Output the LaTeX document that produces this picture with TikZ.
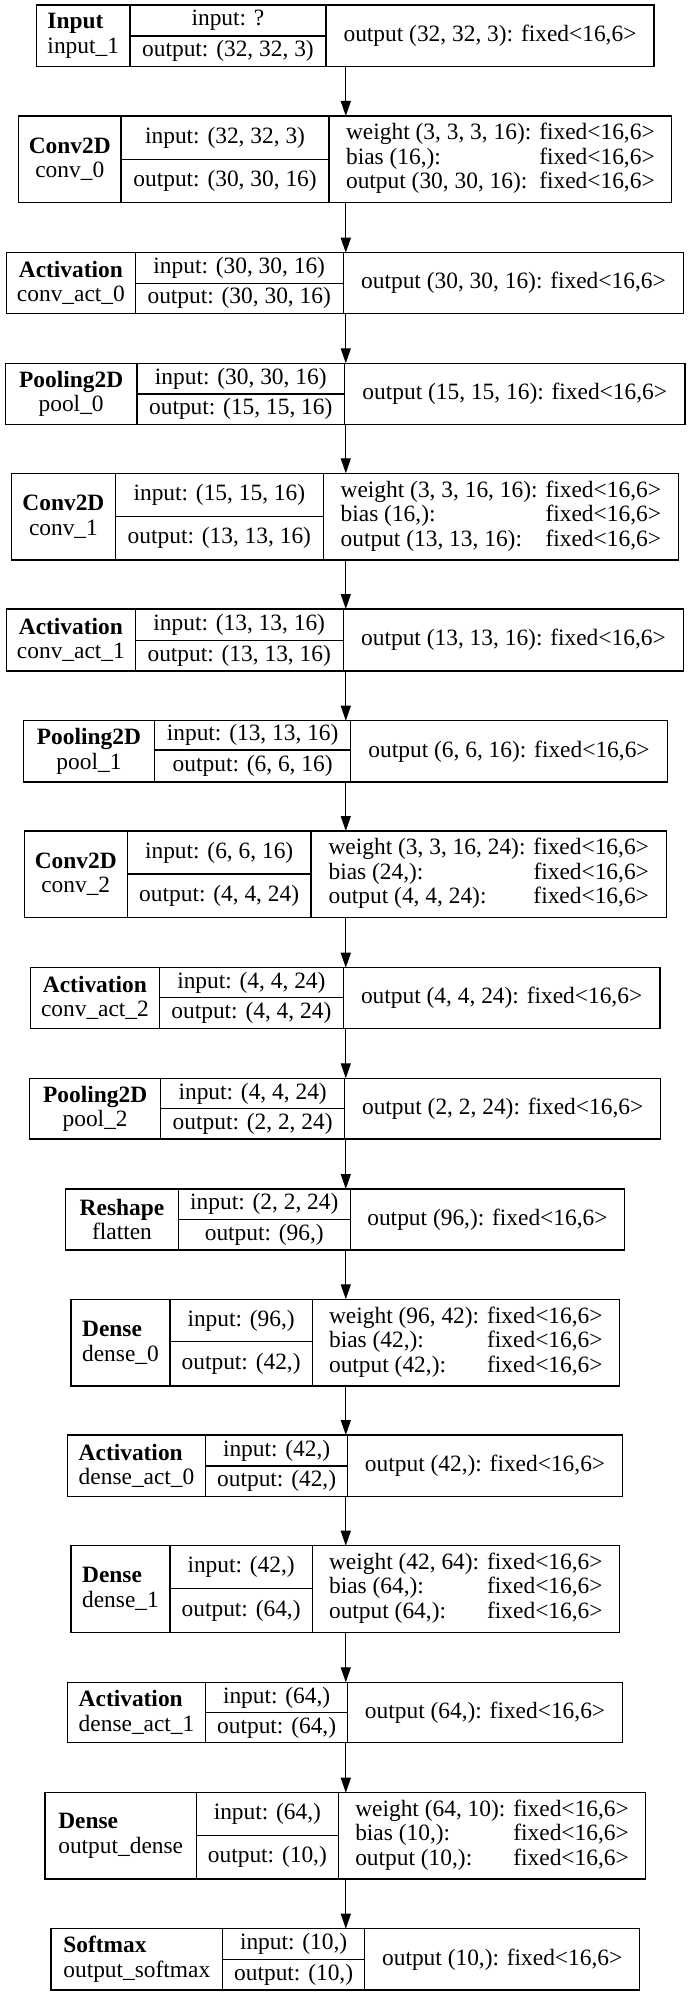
\documentclass[tikz,border=0pt]{standalone}
\usepackage{fontspec}
\setmainfont{Liberation Serif}
\usetikzlibrary{arrows.meta}
\tikzset{
every picture/.style={
line width=0.65pt
}}
% one-line and three-line contents of the right cell
\newcommand\outfix[1]{output #1: fixed<16,6>}
\newcommand\wbo[3]{\begin{tabular}{@{}l@{\hspace{4pt}}l@{}}weight #1: & fixed<16,6>\\bias #2: & fixed<16,6>\\output #3: & fixed<16,6>\end{tabular}}

\begin{document}
\begin{tikzpicture}[x=0.5pt, y=-0.5pt,
cell/.style = {rectangle, draw=black, inner sep=0pt, outer sep=0pt, font=\fontsize{11.7}{12.25}\selectfont},
arrow/.style = {-{Triangle[length=7.5pt,width=5pt]}}]
\useasboundingbox (0,0) rectangle (687,1996);

% layers: name/top/split/bottom/x0/x1/x2/x3/align/type/label/input/output/right
\foreach \nn/\yt/\ys/\yb/\xa/\xb/\xc/\xd/\al/\ty/\lb/\ii/\oo/\rr in {
inp/5/36/66.7/36.6/129.9/326/654/left/Input/input\_1/?/{(32, 32, 3)}/{\outfix{(32, 32, 3)}},
conv0/116/159.3/202.7/18.5/121.1/329/671.8/center/Conv2D/conv\_0/{(32, 32, 3)}/{(30, 30, 16)}/{\wbo{(3, 3, 3, 16)}{(16,)}{(30, 30, 16)}},
convact0/252.7/283.3/313.3/6.6/135.2/343.2/683.7/center/Activation/conv\_act\_0/{(30, 30, 16)}/{(30, 30, 16)}/{\outfix{(30, 30, 16)}},
pool0/363.3/394/424.3/5.3/137/344.5/685/center/Pooling2D/pool\_0/{(30, 30, 16)}/{(15, 15, 16)}/{\outfix{(15, 15, 16)}},
conv1/473.3/516.7/560/11.5/115.4/323.3/678.4/center/Conv2D/conv\_1/{(15, 15, 16)}/{(13, 13, 16)}/{\wbo{(3, 3, 16, 16)}{(16,)}{(13, 13, 16)}},
convact1/609/640.7/671/6.6/135.2/343.2/683.7/center/Activation/conv\_act\_1/{(13, 13, 16)}/{(13, 13, 16)}/{\outfix{(13, 13, 16)}},
pool1/720.7/750/782/23.3/154.6/350.7/667.4/center/Pooling2D/pool\_1/{(13, 13, 16)}/{(6, 6, 16)}/{\outfix{(6, 6, 16)}},
conv2/831/874/917.7/24.2/127.3/311/666.5/center/Conv2D/conv\_2/{(6, 6, 16)}/{(4, 4, 24)}/{\wbo{(3, 3, 16, 24)}{(24,)}{(4, 4, 24)}},
convact2/967.7/997.7/1028.3/30.4/159.5/343.2/660/center/Activation/conv\_act\_2/{(4, 4, 24)}/{(4, 4, 24)}/{\outfix{(4, 4, 24)}},
pool2/1078.3/1108.7/1139/29.5/160.8/344.5/660.8/center/Pooling2D/pool\_2/{(4, 4, 24)}/{(2, 2, 24)}/{\outfix{(2, 2, 24)}},
flatten/1189/1219.3/1250/65.6/178.4/350.2/624.7/center/Reshape/flatten/{(2, 2, 24)}/{(96,)}/{\outfix{(96,)}},
dense0/1299.3/1341.7/1386/70.9/170/312.3/619.4/left/Dense/dense\_0/{(96,)}/{(42,)}/{\wbo{(96, 42)}{(42,)}{(42,)}},
denseact0/1435/1466/1496.7/67.4/205.7/347.6/622.5/left/Activation/dense\_act\_0/{(42,)}/{(42,)}/{\outfix{(42,)}},
dense1/1545.7/1588.7/1632.3/70.9/170/312.3/619.4/left/Dense/dense\_1/{(42,)}/{(64,)}/{\wbo{(42, 64)}{(64,)}{(64,)}},
denseact1/1682.3/1712.7/1742.7/67.4/205.7/347.6/622.5/left/Activation/dense\_act\_1/{(64,)}/{(64,)}/{\outfix{(64,)}},
outdense/1792.7/1835.3/1879/44.9/196.5/338.3/645.8/left/Dense/output\_dense/{(64,)}/{(10,)}/{\wbo{(64, 10)}{(10,)}{(10,)}},
outsoftmax/1928.7/1959.3/1990/51.1/222.5/364.8/639.6/left/Softmax/output\_softmax/{(10,)}/{(10,)}/{\outfix{(10,)}}
}{
\pgfmathsetmacro\wl{(\xb-\xa)/2}
\pgfmathsetmacro\wm{(\xc-\xb)/2}
\pgfmathsetmacro\wr{(\xd-\xc)/2}
\pgfmathsetmacro\hh{(\yb-\yt)/2}
\pgfmathsetmacro\hi{(\ys-\yt)/2}
\pgfmathsetmacro\ho{(\yb-\ys)/2}
\node[cell, align/.expanded=\al, minimum width=\wl pt, minimum height=\hh pt] (\nn-l) at ({(\xa+\xb)/2},{(\yt+\yb)/2}) {\textbf{\ty}\\\lb};
\node[cell, minimum width=\wm pt, minimum height=\hi pt] (\nn-i) at ({(\xb+\xc)/2},{(\yt+\ys)/2}) {input: \ii};
\node[cell, minimum width=\wm pt, minimum height=\ho pt] (\nn-o) at ({(\xb+\xc)/2},{(\ys+\yb)/2}) {output: \oo};
\node[cell, minimum width=\wr pt, minimum height=\hh pt] (\nn-r) at ({(\xc+\xd)/2},{(\yt+\yb)/2}) {\rr};
\coordinate (\nn-in) at (345.8,\yt);
\coordinate (\nn-out) at (345.8,\yb);
}

% arrows between layers
\foreach \u/\v in {inp/conv0, conv0/convact0, convact0/pool0, pool0/conv1, conv1/convact1, convact1/pool1, pool1/conv2, conv2/convact2, convact2/pool2, pool2/flatten, flatten/dense0, dense0/denseact0, denseact0/dense1, dense1/denseact1, denseact1/outdense, outdense/outsoftmax}
\draw [arrow] (\u-out) -- (\v-in);
\end{tikzpicture}
\end{document}
